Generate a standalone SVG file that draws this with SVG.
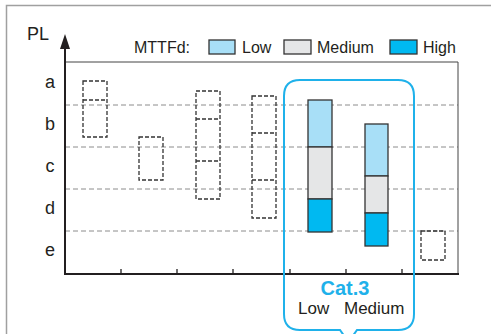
<svg xmlns="http://www.w3.org/2000/svg" width="491" height="334" viewBox="0 0 491 334">
<defs>
<style>
text{font-family:"Liberation Sans",Arial,sans-serif;fill:#231f20}
.grid{stroke:#8c8c8c;stroke-width:1;stroke-dasharray:5 3;fill:none}
.db{fill:none;stroke:#333;stroke-width:1.3;stroke-dasharray:4 2}
.bar{stroke:#333;stroke-width:1.3}
.lo{fill:#a8dff7}
.me{fill:#e5e6e7}
.hi{fill:#00b9f1}
.lbl{font-size:18px;text-anchor:middle}
.leg{font-size:16px}
</style>
</defs>
<rect width="491" height="334" fill="#fff"/>
<path d="M6.5 334 V5.5 H491" fill="none" stroke="#a0a0a0" stroke-width="1.5"/>

<g id="grid">
<line class="grid" x1="65" y1="105" x2="458" y2="105"/>
<line class="grid" x1="65" y1="147" x2="458" y2="147"/>
<line class="grid" x1="65" y1="189" x2="458" y2="189"/>
<line class="grid" x1="65" y1="231" x2="458" y2="231"/>
</g>

<g id="frame">
<path d="M65 62 H458 V274" fill="none" stroke="#444" stroke-width="1"/>
<path d="M65 48 V274 H459" fill="none" stroke="#231f20" stroke-width="2"/>
<polygon points="65,34 60,49 70,49" fill="#231f20"/>
<g stroke="#231f20" stroke-width="1.3">
<line x1="121" y1="274" x2="121" y2="269"/>
<line x1="177" y1="274" x2="177" y2="269"/>
<line x1="233" y1="274" x2="233" y2="269"/>
<line x1="290" y1="274" x2="290" y2="269"/>
<line x1="346" y1="274" x2="346" y2="269"/>
<line x1="402" y1="274" x2="402" y2="269"/>
</g>
<text x="27" y="40" font-size="18">PL</text>
<text class="lbl" x="50" y="88">a</text>
<text class="lbl" x="50" y="130">b</text>
<text class="lbl" x="50" y="172">c</text>
<text class="lbl" x="50" y="214">d</text>
<text class="lbl" x="50" y="256">e</text>
</g>

<g id="legend">
<text class="leg" x="134" y="53">MTTFd:</text>
<rect class="bar lo" x="209" y="40" width="26" height="14"/>
<text class="leg" x="242" y="53">Low</text>
<rect class="bar me" x="284" y="40" width="27" height="14"/>
<text class="leg" x="317" y="53">Medium</text>
<rect class="bar hi" x="390" y="40" width="27" height="14"/>
<text class="leg" x="423" y="53">High</text>
</g>

<g id="col1">
<rect class="db" x="83" y="81" width="24" height="56"/>
<line class="db" x1="83" y1="100" x2="107" y2="100"/>
</g>
<g id="col2">
<rect class="db" x="139" y="137" width="24" height="43"/>
</g>
<g id="col3">
<rect class="db" x="196" y="91" width="24" height="108"/>
<line class="db" x1="196" y1="119" x2="220" y2="119"/>
<line class="db" x1="196" y1="161" x2="220" y2="161"/>
</g>
<g id="col4">
<rect class="db" x="252" y="96" width="24" height="122"/>
<line class="db" x1="252" y1="133" x2="276" y2="133"/>
<line class="db" x1="252" y1="180" x2="276" y2="180"/>
</g>
<g id="col7">
<rect class="db" x="421" y="231" width="24" height="29"/>
</g>

<g id="bar1">
<rect class="bar lo" x="308" y="100" width="24" height="47"/>
<rect class="bar me" x="308" y="147" width="24" height="52"/>
<rect class="bar hi" x="308" y="199" width="24" height="33"/>
</g>
<g id="bar2">
<rect class="bar lo" x="365" y="124" width="23" height="52"/>
<rect class="bar me" x="365" y="176" width="23" height="37"/>
<rect class="bar hi" x="365" y="213" width="23" height="33"/>
</g>

<g id="cat3">
<path d="M300 80 H398 Q414 80 414 96 V314 Q414 330 398 330 H357 L348.5 342 L340 330 H300 Q284 330 284 314 V96 Q284 80 300 80 Z" fill="none" stroke="#1fb1ea" stroke-width="2"/>
<text x="345" y="295" font-size="20" font-weight="bold" text-anchor="middle" style="fill:#1fb1ea">Cat.3</text>
<text x="298" y="314" font-size="17">Low</text>
<text x="344" y="314" font-size="17">Medium</text>
</g>
</svg>
